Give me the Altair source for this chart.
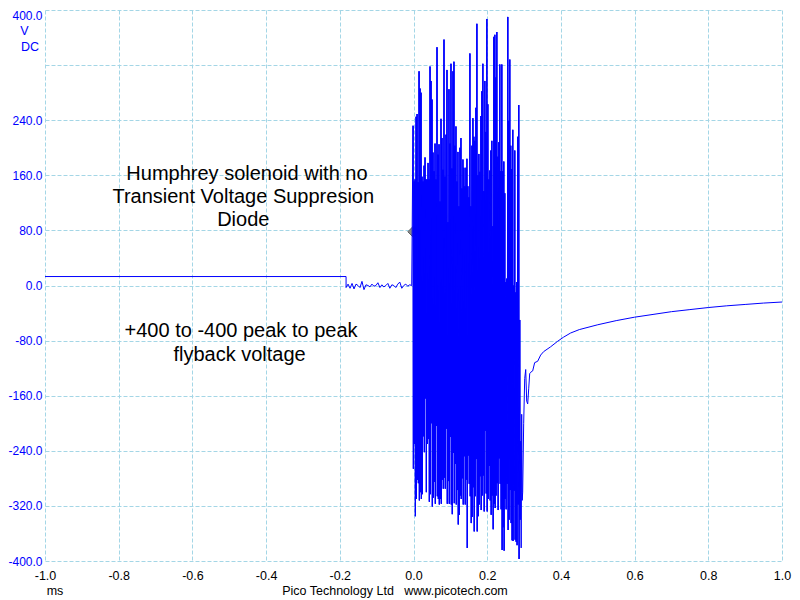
import altair as alt
import pandas as pd

# ---- data ----
PRE_T = [-1.0, -0.183]
PRE_V = [13, 13]

NOISE_T0 = -0.183
NOISE_STEP = 0.0054
NOISE_V = [-3, 2, -4, 3, -5, 2, 0, -3, 6, -6, 1, 0, -2, 2, -1, 0, 4, -3, 1, -2,
           0, 3, -4, 1, 0, -3, 2, 5, -4, 0, 2, -1, 1, 0]

BURST_T0 = -0.0014
SAMPLE_MS = 0.002706
BURST_TOP = [232, 151, 154, 245, 249, 150, 311, 286, 280, 158, 151, 174, 186, 154, 154, 178,
             154, 318, 297, 270, 193, 166, 206, 154, 346, 190, 205, 122, 242, 214, 168, 357,
             158, 219, 313, 92, 285, 206, 322, 170, 311, 325, 203, 231, 151, 194, 115, 200,
             214, 141, 183, 171, 144, 171, 184, 144, 128, 337, 115, 203, 243, 216, 210, 258,
             380, 160, 191, 165, 246, 282, 322, 137, 297, 223, 387, 263, 154, 167, 196, 210,
             86, 361, 364, 302, 368, 187, 208, 321, 166, 321, 166, 180, 134, 5, 10, 390,
             239, 328, 203, 169, 226, 0, 196, -10, 5, 216, 262, -50]
BURST_BOT = [-266, -230, -335, -310, -282, -287, -312, -300, -310, -303, -219, -242, -164, -300,
             -230, -223, -314, -303, -200, -321, -308, -285, -317, -204, -306, -310, -318, -310,
             -317, -282, -295, -279, -295, -208, -317, -284, -317, -220, -318, -332, -243, -316,
             -259, -318, -297, -347, -333, -305, -310, -280, -318, -248, -318, -282, -381, -247,
             -288, -306, -345, -336, -293, -357, -306, -252, -357, -335, -318, -277, -326, -305,
             -276, -328, -211, -302, -328, -310, -262, -312, -333, -305, -354, -317, -323, -305,
             -287, -326, -251, -288, -325, -384, -351, -385, -310, -325, -288, -355, -340, -297,
             -345, -370, -371, -298, -369, -372, -377, -318, -397, -340]

TAIL_T = [0.2909, 0.2922, 0.2936, 0.2950, 0.2963, 0.2990, 0.3018, 0.3045, 0.3072, 0.3099,
          0.3126, 0.3153, 0.3180, 0.3234, 0.3288, 0.3370, 0.3451, 0.3532, 0.3721, 0.3911,
          0.4073, 0.4263, 0.45, 0.5, 0.55, 0.6, 0.65, 0.7, 0.75, 0.8, 0.85, 0.9, 0.95, 1.0]
TAIL_V = [-226, -381, -187, -312, -300, -200, -135, -122, -168, -172,
          -150, -128, -126, -124, -112, -110, -101, -96, -89, -81,
          -75, -69, -64, -57, -51, -46, -42, -38, -35, -32, -29.5, -27.5, -25.5, -24]

TRIGGER_T = [0.0]
TRIGGER_V = [78]

Y_TICKS = [-400, -320, -240, -160, -80, 0, 80, 160, 240, 320, 400]
X_TICKS = [-1.0, -0.8, -0.6, -0.4, -0.2, 0.0, 0.2, 0.4, 0.6, 0.8, 1.0]

NOTE_TEXT = ["Humphrey solenoid with no", "Transient Voltage Suppresion", "Diode",
             "+400 to -400 peak to peak", "flyback voltage"]
NOTE_T = [-0.452, -0.462, -0.462, -0.468, -0.472]
NOTE_V = [162.6, 128.1, 95.0, -66.2, -100.7]

# ---- build the trace ----
ts, vs = [], []
ts += PRE_T
vs += PRE_V
for i, v in enumerate(NOISE_V):
    ts.append(NOISE_T0 + i * NOISE_STEP)
    vs.append(v)
bt, bhi, blo = [], [], []
for i, (hi, lo) in enumerate(zip(BURST_TOP, BURST_BOT)):
    t = BURST_T0 + i * SAMPLE_MS
    ts.append(t)
    vs.append(hi)
    ts.append(t + SAMPLE_MS / 2)
    vs.append(lo)
    bt.append(t + SAMPLE_MS / 4)
    bhi.append(hi)
    blo.append(lo)
ts += TAIL_T
vs += TAIL_V
trace = pd.DataFrame({"t": ts, "v": vs, "i": list(range(len(ts)))})
burst = pd.DataFrame({"t": bt, "hi": bhi, "lo": blo})

FONT = "Liberation Sans"
GRID = "#a4d6e6"
BLUE = "#0000FF"

xscale = alt.Scale(domain=[-1, 1], nice=False, zero=False)
yscale = alt.Scale(domain=[-400, 400], nice=False, zero=False)

fmt_expr = "(datum.value < 0 ? '-' : '') + format(abs(datum.value), '.1f')"

xaxis = alt.Axis(values=X_TICKS, grid=True, gridDash=[4, 2], gridColor=GRID, gridOpacity=1,
                 ticks=False, domain=False, labelColor="black", labelFontSize=12.5,
                 labelFont=FONT, labelPadding=8, labelFlush=False, labelOverlap=False,
                 title=None, labelExpr=fmt_expr)
yaxis = alt.Axis(values=Y_TICKS, grid=True, gridDash=[4, 2], gridColor=GRID, gridOpacity=1,
                 ticks=False, domain=False, labelColor=BLUE, labelFontSize=12,
                 labelFont=FONT, labelPadding=3, labelFlush=False, labelOverlap=False,
                 title=None,
                 labelBaseline={"condition": {"test": "datum.value == 400", "value": "top"},
                                "value": "middle"},
                 labelExpr="datum.value == 320 ? '' : " + fmt_expr)

trig = pd.DataFrame({"t": TRIGGER_T, "v": TRIGGER_V})
trigger = alt.Chart(trig).mark_point(shape="diamond", filled=True, size=130,
                                     color="#8a8a8a", stroke="#606060",
                                     strokeWidth=1, opacity=1).encode(
    x=alt.X("t:Q", scale=xscale, axis=xaxis),
    y=alt.Y("v:Q", scale=yscale, axis=yaxis),
)

rules = alt.Chart(burst).mark_rule(color=BLUE, strokeWidth=1.2).encode(
    x=alt.X("t:Q", scale=xscale),
    y=alt.Y("hi:Q", scale=yscale),
    y2="lo:Q",
)

line = alt.Chart(trace).mark_line(color=BLUE, strokeWidth=1, clip=True,
                                  interpolate="linear").encode(
    x=alt.X("t:Q", scale=xscale),
    y=alt.Y("v:Q", scale=yscale),
    order="i:Q",
)

notes = pd.DataFrame({"t": NOTE_T, "v": NOTE_V, "text": NOTE_TEXT})
note_layer = alt.Chart(notes).mark_text(font=FONT, fontSize=20, color="black",
                                        align="center", baseline="middle").encode(
    x=alt.X("t:Q", scale=xscale),
    y=alt.Y("v:Q", scale=yscale),
    text="text:N",
)

lbl = pd.DataFrame({"a": [0]})
ms_txt = alt.Chart(lbl).mark_text(font=FONT, fontSize=12.5, color="black",
                                  align="center", baseline="alphabetic", text="ms").encode(
    x=alt.value(10), y=alt.value(585))
pico_txt = alt.Chart(lbl).mark_text(font=FONT, fontSize=12.5, color="black",
                                    align="center", baseline="alphabetic",
                                    text="Pico Technology Ltd\u00a0\u00a0\u00a0www.picotech.com").encode(
    x=alt.value(350), y=alt.value(585))
v_txt = alt.Chart(lbl).mark_text(font=FONT, fontSize=12.5, color=BLUE,
                                 align="center", baseline="middle", text="V").encode(
    x=alt.value(-20.5), y=alt.value(21))
dc_txt = alt.Chart(lbl).mark_text(font=FONT, fontSize=12.5, color=BLUE,
                                  align="center", baseline="middle", text="DC").encode(
    x=alt.value(-15), y=alt.value(37))

chart = alt.layer(trigger, rules, line, note_layer, ms_txt, pico_txt, v_txt, dc_txt).properties(
    width=737, height=551,
    autosize=alt.AutoSizeParams(type="none"),
    padding={"left": 37, "top": 2, "right": 10, "bottom": 37},
    background="white",
).configure_view(stroke=None)

chart.save("out.html", embed_options={"renderer": "svg", "actions": False})
